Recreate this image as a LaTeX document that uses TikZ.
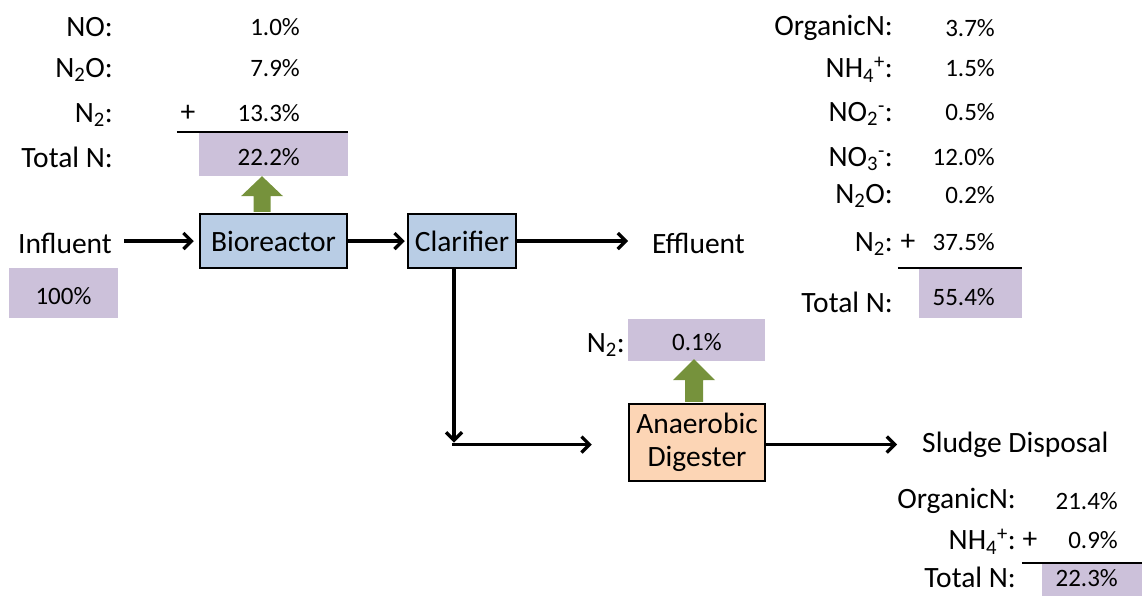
\documentclass[tikz,border=0pt]{standalone}
\usepackage{fontspec}
\setmainfont{Carlito}
\usetikzlibrary{arrows.meta,calc}
\definecolor{boxpurple}{HTML}{CCC1DA}
\definecolor{boxblue}{HTML}{B9CDE5}
\definecolor{boxpeach}{HTML}{FCD5B5}
\definecolor{arrowgreen}{HTML}{76923C}
\begin{document}
\begin{tikzpicture}[x=1pt,y=-1pt,
  lab/.style={anchor=east, inner sep=0pt, font=\fontsize{29.5}{34}\selectfont},
  num/.style={anchor=east, inner sep=0pt, font=\fontsize{25}{30}\selectfont},
  plus/.style={inner sep=0pt, font=\fontsize{29.5}{34}\selectfont},
  plain/.style={inner sep=0pt, font=\fontsize{29.5}{34}\selectfont},
  proc/.style={draw=black, line width=2.5pt, inner sep=0pt, font=\fontsize{29.5}{33}\selectfont, align=center},
  pbox/.style={fill=boxpurple, inner sep=0pt},
  flow/.style={line width=3.2pt, -{Straight Barb[length=8pt,width=16pt]}},
  rulel/.style={line width=1.5pt},
  garrow/.style={fill=arrowgreen}]
\useasboundingbox (0,0) rectangle (1142,595);

% purple boxes
\node[pbox, minimum width=149pt, minimum height=44pt] (tot1) at (273.5,154) {};
\node[pbox, minimum width=109pt, minimum height=50pt] (inbox) at (63.5,293) {};
\node[pbox, minimum width=137pt, minimum height=42pt] (n2box) at (696.5,340) {};
\node[pbox, minimum width=103pt, minimum height=50pt] (tot2) at (970.5,293) {};
\node[pbox, minimum width=100pt, minimum height=40pt] (tot3) at (1092,583) {};

% process boxes
\node[proc, fill=boxblue, minimum width=147pt, minimum height=54pt] (bio) at (273.5,241) {Bioreactor};
\node[proc, fill=boxblue, minimum width=108pt, minimum height=54pt] (clar) at (462,241) {Clarifier};
\node[proc, fill=boxpeach, minimum width=136pt, minimum height=77pt] (dig) at (697,442.5) {Anaerobic\\Digester};

% green arrows
\coordinate (g1b) at ($(bio.north)+(-11.5,-1)$);
\coordinate (g1t) at ($(tot1.south)+(-11.5,0)$);
\fill[garrow] ($(g1b)+(-8.5,0)$) -- ($(g1t)+(-8.5,20)$) -- ($(g1t)+(-21,20)$) -- (g1t)
  -- ($(g1t)+(21,20)$) -- ($(g1t)+(8.5,20)$) -- ($(g1b)+(8.5,0)$) -- cycle;
\coordinate (g2b) at ($(dig.north)+(-3,-1)$);
\coordinate (g2t) at ($(n2box.south)+(-2.5,-2)$);
\fill[garrow] ($(g2b)+(-9,0)$) -- ($(g2t)+(-9,21)$) -- ($(g2t)+(-21,21)$) -- (g2t)
  -- ($(g2t)+(21,21)$) -- ($(g2t)+(9,21)$) -- ($(g2b)+(9,0)$) -- cycle;

% top-left gas list
\node[lab] (l1) at (113,27) {NO:};
\node[num] (v1) at (300,27) {1.0\%};
\node[lab] (l2) at (113,70) {N\textsubscript{2}O:};
\node[num] (v2) at (300,68) {7.9\%};
\node[lab] (l3) at (113,115) {N\textsubscript{2}:};
\node[plus] (p1) at (188,113) {+};
\node[num] (v3) at (300,113) {13.3\%};
\draw[rulel] ($(tot1.north west)+(-22,0)$) -- (tot1.north east);
\node[lab] (l4) at (113,157) {Total N:};
\node[num] (v4) at (300,157) {22.2\%};

% main flow texts
\node[plain] (infl) at (65,243) {Influent};
\node[num, anchor=center] (v0) at (63.5,296) {100\%};
\node[plain, anchor=west] (effl) at (652,243) {Effluent};
\node[plain, anchor=west] (sludge) at (922,445) {Sludge Disposal};
\node[lab] (ln2) at (625,345) {N\textsubscript{2}:};
\node[num, anchor=center] (vn2) at (697,342) {0.1\%};

% connectors
\coordinate (i1) at ($(infl.east |- bio.west)+(12,0)$);
\coordinate (e1) at ($(effl.west)+(-24,0)$);
\coordinate (cd) at ($(clar.south)+(-8,0)$);
\coordinate (corner) at ($(cd |- dig.west)+(0,1)$);
\coordinate (dgin) at ($(dig.west)+(-36,0)$);
\coordinate (sdin) at ($(sludge.west)+(-25,0)$);
\draw[flow] (i1) -- ($(bio.west)+(-5,0)$);
\draw[flow] (bio.east) -- ($(clar.west)+(-2,0)$);
\draw[flow] (clar.east) -- (clar.east -| e1);
\draw[flow] (cd) -- ($(corner)+(0,-1)$);
\draw[flow] ($(corner)+(-1.6,1)$) -- ($(corner -| dgin)+(0,1)$);
\draw[flow] ($(dig.east |- corner)+(0,1)$) -- ($(corner -| sdin)+(0,1)$);

% top-right effluent list
\node[lab] (r1) at (893,28) {OrganicN:};
\node[num] (rv1) at (995,28) {3.7\%};
\node[lab] (r2) at (893,70) {NH\textsubscript{4}\textsuperscript{+}:};
\node[num] (rv2) at (995,68) {1.5\%};
\node[lab] (r3) at (893,114) {NO\textsubscript{2}\textsuperscript{-}:};
\node[num] (rv3) at (995,112) {0.5\%};
\node[lab] (r4) at (893,159) {NO\textsubscript{3}\textsuperscript{-}:};
\node[num] (rv4) at (995,157) {12.0\%};
\node[lab] (r5) at (893,196) {N\textsubscript{2}O:};
\node[num] (rv5) at (995,195) {0.2\%};
\node[lab] (r6) at (893,244) {N\textsubscript{2}:};
\node[plus] (p2) at (908,242) {+};
\node[num] (rv6) at (995,242) {37.5\%};
\draw[rulel] ($(tot2.north west)+(-21,0)$) -- (tot2.north east);
\node[lab] (r7) at (893,302) {Total N:};
\node[num] (rv7) at (995,297) {55.4\%};

% bottom-right sludge list
\node[lab] (s1) at (1016,501) {OrganicN:};
\node[num] (sv1) at (1118,501) {21.4\%};
\node[lab] (s2) at (1016,542) {NH\textsubscript{4}\textsuperscript{+}:};
\node[plus] (p3) at (1030,540) {+};
\node[num] (sv2) at (1118,540) {0.9\%};
\draw[rulel] ($(tot3.north west)+(-20,0)$) -- (tot3.north east);
\node[lab] (s3) at (1016,577) {Total N:};
\node[num] (sv3) at (1118,578) {22.3\%};
\end{tikzpicture}
\end{document}
